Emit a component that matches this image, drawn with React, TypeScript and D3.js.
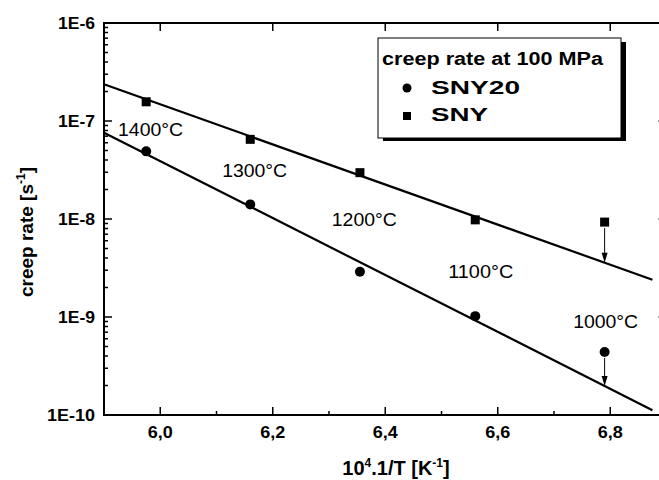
import React from 'react';
import * as d3 from 'd3';

// 10^4/T values of the measurements (1400 ... 1000 °C)
const invT = [5.975, 6.16, 6.355, 6.56, 6.79];
const tempLabels = ['1400°C', '1300°C', '1200°C', '1100°C', '1000°C'];
// creep rate at 100 MPa [1/s]
const sny20 = [4.9e-8, 1.41e-8, 2.9e-9, 1.02e-9, 4.4e-10];
const sny = [1.57e-7, 6.5e-8, 2.97e-8, 9.8e-9, 9.3e-9];
// fitted lines (end points in data units)
const fitX = [5.9, 6.875];
const sny20Fit = [7.6e-8, 1.12e-10];
const snyFit = [2.37e-7, 2.4e-9];
// last point of each series is only an upper bound
const upperBound = [false, false, false, false, true];

const xTicks = [6.0, 6.2, 6.4, 6.6, 6.8];
const xMinor = [5.9, 6.1, 6.3, 6.5, 6.7, 6.9];
const yTicks = [1e-10, 1e-9, 1e-8, 1e-7, 1e-6];
const yTickLabels = ['1E-10', '1E-9', '1E-8', '1E-7', '1E-6'];

const W = 659;
const H = 480;
const left = 104;
const right = 666.5;
const top = 23;
const bottom = 415;

const font = 'Arial, "Liberation Sans", sans-serif';

export default function App() {
  const x = d3.scaleLinear().domain([5.9, 6.9]).range([left, right]);
  const y = d3.scaleLog().domain([1e-10, 1e-6]).range([bottom, top]);

  const line = d3.line<[number, number]>().x(d => x(d[0])).y(d => y(d[1]));

  // value of a fit line at a given x (straight line in log space)
  const fitAt = (fit: number[], xv: number) => {
    const t = (xv - fitX[0]) / (fitX[1] - fitX[0]);
    const l = Math.log10(fit[0]) + t * (Math.log10(fit[1]) - Math.log10(fit[0]));
    return Math.pow(10, l);
  };

  const yMinor: number[] = [];
  for (let e = -10; e < -6; e++) {
    for (let m = 2; m <= 9; m++) yMinor.push(m * Math.pow(10, e));
  }

  // where the temperature annotations sit (data units, text baseline)
  const labelPos = [
    [5.925, 7.0e-8],
    [6.11, 2.69e-8],
    [6.305, 8.5e-9],
    [6.512, 2.5e-9],
    [6.734, 7.7e-10],
  ];

  const arrow = (xv: number, from: number, to: number, key: string) => {
    const px = x(xv);
    const y0 = y(from) + 6;
    const y1 = y(to);
    return (
      <g key={key}>
        <line x1={px} x2={px} y1={y0} y2={y1 - 8} stroke="#000" strokeWidth={1} />
        <path d={`M${px - 3},${y1 - 10} L${px + 3},${y1 - 10} L${px},${y1} Z`} fill="#000" />
      </g>
    );
  };

  return (
    <svg
      width={W}
      height={H}
      style={{ position: 'absolute', left: 0, top: 0, background: '#fff' }}
      fontFamily={font}
    >
      <rect x={0} y={0} width={W} height={H} fill="#fff" />

      {/* frame */}
      <rect x={left} y={top} width={right - left} height={bottom - top} fill="none" stroke="#000" strokeWidth={2} />

      {/* x ticks */}
      {xTicks.map(t => (
        <g key={'xt' + t}>
          <line x1={x(t)} x2={x(t)} y1={bottom} y2={bottom - 8} stroke="#000" strokeWidth={1.5} />
          <line x1={x(t)} x2={x(t)} y1={top} y2={top + 8} stroke="#000" strokeWidth={1.5} />
          <text x={x(t)} y={bottom + 23} textAnchor="middle" fontSize={17} fontWeight="bold"
            textLength={25} lengthAdjust="spacingAndGlyphs">
            {t.toFixed(1).replace('.', ',')}
          </text>
        </g>
      ))}
      {xMinor.map(t => (
        <line key={'xm' + t} x1={x(t)} x2={x(t)} y1={bottom} y2={bottom - 4} stroke="#000" strokeWidth={1.5} />
      ))}

      {/* y ticks */}
      {yTicks.map((t, i) => (
        <g key={'yt' + i}>
          <line x1={left} x2={left + 8} y1={y(t)} y2={y(t)} stroke="#000" strokeWidth={1.5} />
          <line x1={right} x2={right - 8} y1={y(t)} y2={y(t)} stroke="#000" strokeWidth={1.5} />
          <text x={95} y={y(t) + 6} textAnchor="end" fontSize={17} fontWeight="bold"
            textLength={yTickLabels[i].length > 4 ? 48 : 37} lengthAdjust="spacingAndGlyphs">
            {yTickLabels[i]}
          </text>
        </g>
      ))}
      {yMinor.map((t, i) => (
        <line key={'ym' + i} x1={left} x2={left + 4} y1={y(t)} y2={y(t)} stroke="#000" strokeWidth={1.5} />
      ))}

      {/* axis titles */}
      <text x={396} y={475} textAnchor="middle" fontSize={20} fontWeight="bold">
        10<tspan dy={-8} fontSize={12}>4</tspan>
        <tspan dy={8}>.1/T [K</tspan>
        <tspan dy={-8} fontSize={12}>-1</tspan>
        <tspan dy={8}>]</tspan>
      </text>
      <text transform={`translate(33,232) rotate(-90)`} textAnchor="middle" fontSize={19} fontWeight="bold">
        creep rate [s<tspan dy={-8} fontSize={12}>-1</tspan>
        <tspan dy={8}>]</tspan>
      </text>

      {/* fit lines */}
      <path d={line([[fitX[0], snyFit[0]], [fitX[1], snyFit[1]]]) || ''} stroke="#000" strokeWidth={2.2} fill="none" />
      <path d={line([[fitX[0], sny20Fit[0]], [fitX[1], sny20Fit[1]]]) || ''} stroke="#000" strokeWidth={2.2} fill="none" />

      {/* upper-bound arrows */}
      {invT.map((xv, i) =>
        upperBound[i] ? (
          <g key={'ar' + i}>
            {arrow(xv, sny[i], fitAt(snyFit, xv), 'a1' + i)}
            {arrow(xv, sny20[i], fitAt(sny20Fit, xv), 'a2' + i)}
          </g>
        ) : null
      )}

      {/* markers */}
      {invT.map((xv, i) => (
        <rect key={'s' + i} x={x(xv) - 4.5} y={y(sny[i]) - 4.5} width={9} height={9} fill="#000" />
      ))}
      {invT.map((xv, i) => (
        <circle key={'c' + i} cx={x(xv)} cy={y(sny20[i])} r={5} fill="#000" />
      ))}

      {/* temperature labels */}
      {tempLabels.map((l, i) => (
        <text key={l} x={x(labelPos[i][0])} y={y(labelPos[i][1])} fontSize={18}
          textLength={65} lengthAdjust="spacingAndGlyphs">
          {l}
        </text>
      ))}

      {/* legend */}
      <rect x={383} y={42} width={243} height={99} fill="#000" />
      <rect x={378} y={38} width={243} height={100} fill="#fff" stroke="#000" strokeWidth={1} />
      <text x={382} y={65} fontSize={18} fontWeight="bold" textLength={221} lengthAdjust="spacingAndGlyphs">
        creep rate at 100 MPa
      </text>
      <circle cx={407} cy={88} r={4.5} fill="#000" />
      <text x={431} y={94} fontSize={19} fontWeight="bold" textLength={89} lengthAdjust="spacingAndGlyphs">SNY20</text>
      <rect x={403} y={112} width={8} height={8} fill="#000" />
      <text x={431} y={121} fontSize={19} fontWeight="bold" textLength={57} lengthAdjust="spacingAndGlyphs">SNY</text>
    </svg>
  );
}
